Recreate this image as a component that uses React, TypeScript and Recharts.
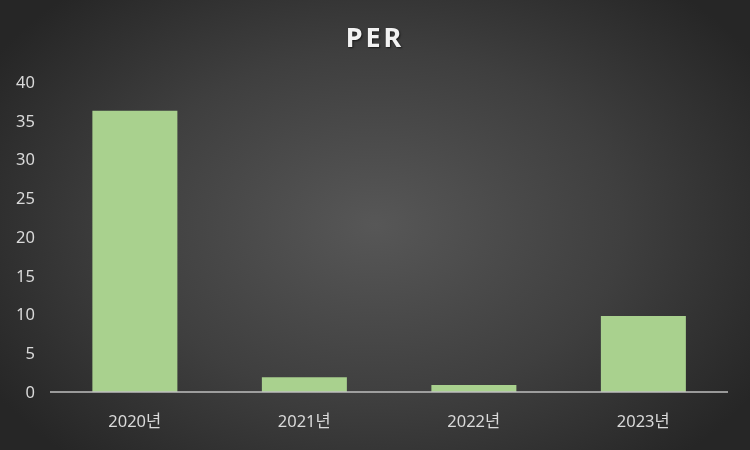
import React from "react";
import { BarChart, Bar, XAxis, YAxis } from "recharts";

const categories = ["2020년", "2021년", "2022년", "2023년"];
const perValues = [36.3, 1.9, 0.9, 9.8];
const yTicks = [0, 5, 10, 15, 20, 25, 30, 35, 40];

const data = categories.map((c, i) => ({ name: c, per: perValues[i] }));

const font = "'Noto Sans', 'Noto Sans CJK KR', sans-serif";

export default function App() {
  return (
    <div
      style={{
        position: "fixed",
        left: 0,
        top: 0,
        width: 750,
        height: 450,
        background: "radial-gradient(ellipse 60% 70% at 50% 50%, #575757 0%, #3f3f3f 55%, #262626 100%)",
        fontFamily: font,
      }}
    >
      <div
        style={{
          position: "absolute",
          left: 0,
          top: 18,
          width: 750,
          textAlign: "center",
          color: "#f2f2f2",
          fontSize: 27,
          fontWeight: 700,
          letterSpacing: 3,
          fontFamily: font,
          textShadow: "1px 1px 2px rgba(0,0,0,0.6)",
        }}
      >
        PER
      </div>
      <div style={{ position: "absolute", left: 0, top: 0 }}>
        <BarChart
          width={750}
          height={450}
          data={data}
          margin={{ top: 82, right: 22, left: 0, bottom: 0 }}
          barCategoryGap="25%"
        >
          <XAxis
            dataKey="name"
            height={58}
            axisLine={{ stroke: "#bfbfbf", strokeWidth: 1.5 }}
            tickLine={false}
            tickMargin={17}
            tick={{ fill: "#d9d9d9", fontSize: 16.5, fontFamily: font }}
          />
          <YAxis
            width={50}
            domain={[0, 40]}
            ticks={yTicks}
            axisLine={false}
            tickLine={false}
            tickMargin={9}
            tick={{ fill: "#d9d9d9", fontSize: 16.5, fontFamily: font }}
          />
          <Bar dataKey="per" fill="#a9d18e" isAnimationActive={false} />
        </BarChart>
      </div>
    </div>
  );
}
